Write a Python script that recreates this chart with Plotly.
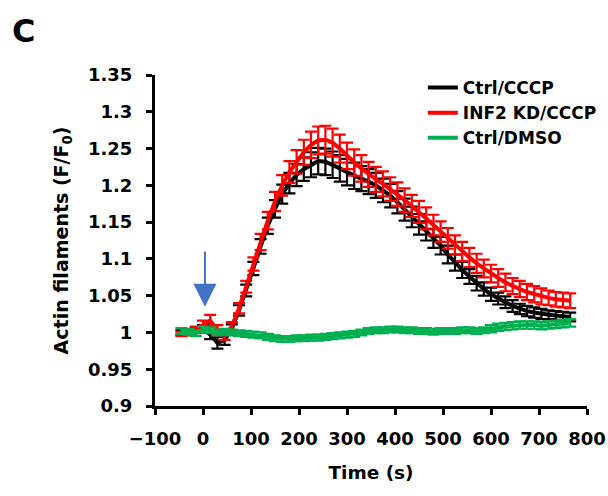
import plotly.graph_objects as go

time_s = [-45, -30, -15, 0, 15, 30, 45, 60, 75, 90, 105, 120, 135, 150, 165, 180,
          195, 210, 225, 240, 255, 270, 285, 300, 315, 330, 345, 360, 375, 390, 405,
          420, 435, 450, 465, 480, 495, 510, 525, 540, 555, 570, 585, 600, 615, 630,
          645, 660, 675, 690, 705, 720, 735, 750, 765]

ctrl_cccp = [1.000, 1.000, 1.003, 1.005, 0.997, 0.986, 0.990,
             1.005, 1.030, 1.057, 1.087, 1.117, 1.145, 1.168, 1.188, 1.203,
             1.214, 1.222, 1.228, 1.233, 1.232, 1.228, 1.223, 1.218, 1.213, 1.209, 1.205,
             1.200, 1.193, 1.186, 1.177, 1.167, 1.157, 1.147, 1.138, 1.128, 1.118, 1.106, 1.095,
             1.085, 1.076, 1.067, 1.059, 1.052, 1.046, 1.041, 1.036, 1.032, 1.029, 1.027,
             1.025, 1.024, 1.023, 1.022, 1.021]
ctrl_cccp_err = [0.003, 0.003, 0.004, 0.005, 0.006, 0.008, 0.007,
                 0.006, 0.007, 0.008, 0.009, 0.010, 0.011, 0.012, 0.013, 0.014,
                 0.015, 0.016, 0.017, 0.018, 0.018, 0.018, 0.018, 0.018, 0.018, 0.017, 0.017,
                 0.017, 0.016, 0.016, 0.015, 0.015, 0.014, 0.014, 0.013, 0.013, 0.012, 0.012, 0.011,
                 0.011, 0.010, 0.010, 0.009, 0.009, 0.008, 0.008, 0.008, 0.007, 0.007, 0.007,
                 0.007, 0.006, 0.006, 0.006, 0.006]

inf2_kd_cccp = [0.998, 0.999, 1.004, 1.010, 1.016, 1.003, 0.996,
                1.008, 1.033, 1.062, 1.093, 1.123, 1.152, 1.178, 1.200, 1.218,
                1.232, 1.245, 1.255, 1.261, 1.262, 1.258, 1.250, 1.240, 1.231, 1.223, 1.215,
                1.208, 1.202, 1.195, 1.188, 1.180, 1.172, 1.164, 1.155, 1.146, 1.137, 1.128, 1.119,
                1.110, 1.102, 1.094, 1.087, 1.080, 1.074, 1.068, 1.063, 1.059, 1.055, 1.052,
                1.049, 1.047, 1.045, 1.044, 1.043]
inf2_kd_cccp_err = [0.003, 0.003, 0.004, 0.006, 0.008, 0.007, 0.006,
                    0.006, 0.007, 0.008, 0.009, 0.011, 0.012, 0.013, 0.014, 0.015,
                    0.016, 0.017, 0.018, 0.019, 0.019, 0.019, 0.019, 0.018, 0.018, 0.018, 0.017,
                    0.017, 0.017, 0.016, 0.016, 0.016, 0.015, 0.015, 0.015, 0.014, 0.014, 0.014, 0.013,
                    0.013, 0.013, 0.013, 0.012, 0.012, 0.012, 0.012, 0.011, 0.011, 0.011, 0.011,
                    0.011, 0.010, 0.010, 0.010, 0.010]

ctrl_dmso = [1.002, 1.001, 0.999, 1.004, 1.003, 1.000, 1.001,
             1.000, 0.999, 0.998, 0.997, 0.996, 0.994, 0.992, 0.991, 0.991,
             0.992, 0.992, 0.993, 0.993, 0.994, 0.995, 0.996, 0.997, 0.998, 1.000, 1.002,
             1.003, 1.003, 1.004, 1.004, 1.003, 1.003, 1.002, 1.002, 1.001, 1.002, 1.002, 1.002,
             1.003, 1.003, 1.002, 1.003, 1.005, 1.007, 1.008, 1.009, 1.010, 1.010, 1.010,
             1.009, 1.010, 1.011, 1.012, 1.013]
ctrl_dmso_err = [0.004, 0.004, 0.004, 0.004, 0.004, 0.004, 0.004,
                 0.004, 0.004, 0.004, 0.004, 0.004, 0.004, 0.004, 0.004, 0.004,
                 0.004, 0.004, 0.004, 0.004, 0.004, 0.004, 0.004, 0.004, 0.004, 0.004, 0.004,
                 0.004, 0.004, 0.004, 0.004, 0.004, 0.004, 0.004, 0.004, 0.004, 0.004, 0.004, 0.004,
                 0.004, 0.004, 0.004, 0.004, 0.005, 0.005, 0.005, 0.005, 0.005, 0.005, 0.005,
                 0.005, 0.005, 0.005, 0.005, 0.005]

x_ticks = [-100, 0, 100, 200, 300, 400, 500, 600, 700, 800]
y_ticks = [0.9, 0.95, 1.0, 1.05, 1.1, 1.15, 1.2, 1.25, 1.3, 1.35]
y_tick_labels = ["0.9", "0.95", "1", "1.05", "1.1", "1.15", "1.2", "1.25", "1.3", "1.35"]

FONT = "'DejaVu Sans', sans-serif"

series = [
    ("Ctrl/CCCP", ctrl_cccp, ctrl_cccp_err, "#000000", 1),
    ("INF2 KD/CCCP", inf2_kd_cccp, inf2_kd_cccp_err, "#FF0000", 2),
    ("Ctrl/DMSO", ctrl_dmso, ctrl_dmso_err, "#00B050", 3),
]

fig = go.Figure()
for name, vals, errs, color, rank in series:
    fig.add_trace(go.Scatter(
        x=time_s, y=vals, name=name, mode="lines",
        line=dict(color=color, width=4),
        error_y=dict(type="data", array=errs, visible=True,
                     color=color, thickness=2.2, width=6),
        legendrank=rank,
    ))

fig.add_annotation(
    x=4, y=1.035, ax=4, ay=1.112, xref="x", yref="y", axref="x", ayref="y",
    text="", showarrow=True, arrowhead=2, arrowsize=2.3, arrowwidth=2,
    arrowcolor="#4472C4",
)

fig.add_annotation(
    x=-0.336, y=1.133, xref="paper", yref="paper", text="C", showarrow=False,
    xanchor="left", yanchor="middle",
    font=dict(family=FONT, size=32, color="black", weight=700),
)

fig.update_layout(
    width=608, height=496,
    margin=dict(l=155, r=21, t=75, b=90, autoexpand=False),
    paper_bgcolor="white", plot_bgcolor="white",
    font=dict(family=FONT, color="black", weight=700),
    showlegend=True,
    legend=dict(x=0.62, y=1.015, xanchor="left", yanchor="top",
                font=dict(family=FONT, size=17, color="black", weight=700),
                bgcolor="rgba(0,0,0,0)", tracegroupgap=0, itemwidth=30),
    xaxis=dict(
        range=[-100, 800], tickvals=x_ticks, showgrid=False, zeroline=False,
        showline=True, linecolor="black", linewidth=3,
        ticks="outside", ticklen=6, tickwidth=3, tickcolor="black",
        ticklabelstandoff=8,
        tickfont=dict(family=FONT, size=18, weight=700),
        title=dict(text="Time (s)", font=dict(family=FONT, size=18.5, weight=700), standoff=19),
    ),
    yaxis=dict(
        range=[0.9, 1.35], tickvals=y_ticks, ticktext=y_tick_labels,
        showgrid=False, zeroline=False,
        showline=True, linecolor="black", linewidth=3,
        ticks="outside", ticklen=6, tickwidth=3, tickcolor="black",
        ticklabelstandoff=10,
        tickfont=dict(family=FONT, size=18, weight=700),
        title=dict(text="Actin filaments (F/F<sub>0</sub>)",
                   font=dict(family=FONT, size=19, weight=700), standoff=15),
    ),
)

fig.write_html(
    "out.html",
    config={"displayModeBar": False},
    post_script="document.body.style.margin='0';document.body.style.overflow='hidden';",
)
